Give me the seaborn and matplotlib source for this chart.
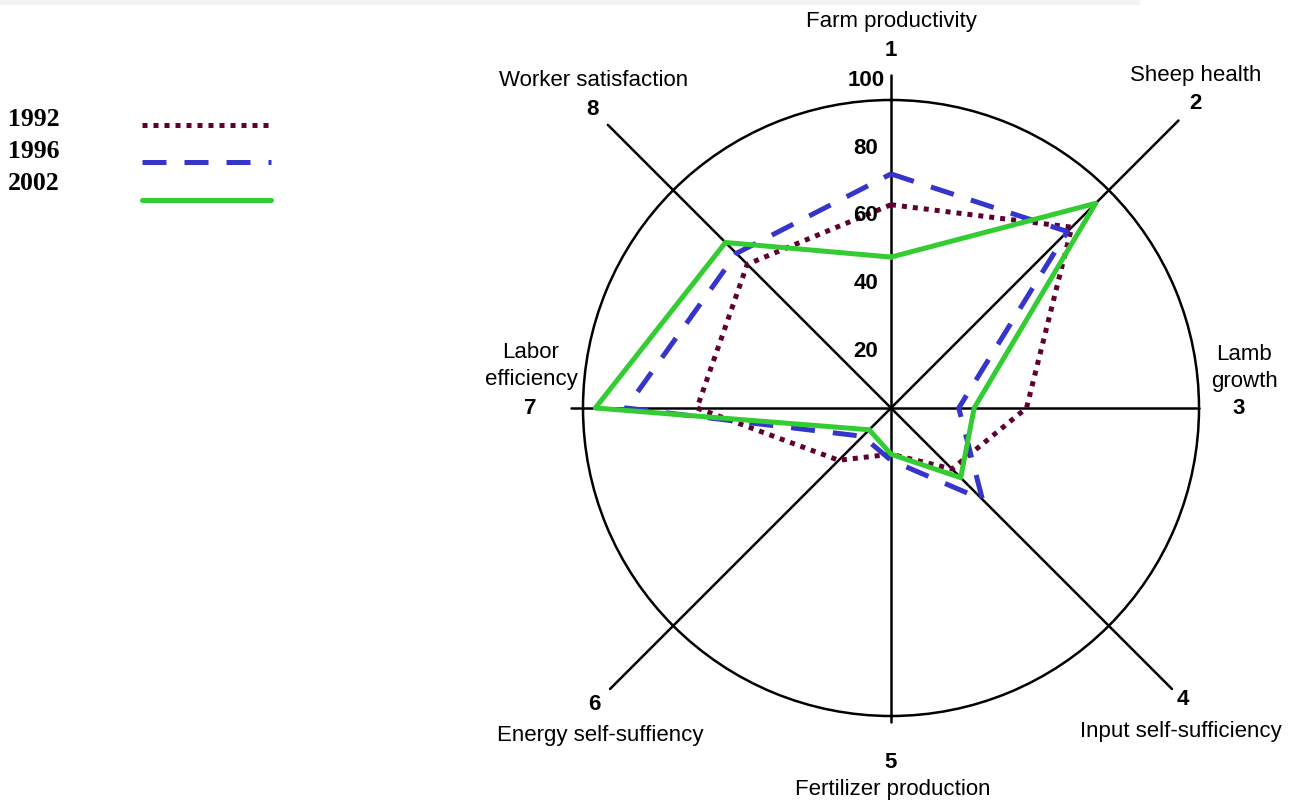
import numpy as np
import pandas as pd
import matplotlib.pyplot as plt
from matplotlib.patches import Rectangle
import seaborn as sns

# criteria (clockwise from the top) and scores per year
criteria = ['Farm productivity', 'Sheep health', 'Lamb\ngrowth', 'Input self-sufficiency',
            'Fertilizer production', 'Energy self-suffiency', 'Labor\nefficiency', 'Worker satisfaction']
years = ['1992', '1996', '2002']
scores_1992 = [66, 83, 44, 28, 15, 24, 63, 66]
scores_1996 = [76, 81, 22, 42, 17, 13, 86, 71]
scores_2002 = [49, 94, 27, 32, 15, 10, 96, 76]
ring_ticks = [20, 40, 60, 80, 100]

colors = {'1992': '#600030', '1996': '#3535cc', '2002': '#33cc33'}
dashes = {'1992': (1, 1.2), '1996': (4.8, 3.6), '2002': ''}

n = len(criteria)
theta = np.arange(n) * 2 * np.pi / n
rows = []
for yr, vals in zip(years, [scores_1992, scores_1996, scores_2002]):
    for t, v in zip(list(theta) + [2 * np.pi], vals + vals[:1]):
        rows.append({'year': yr, 'theta': t, 'value': v})
df = pd.DataFrame(rows)

sns.set_style('white')
plt.rcParams['font.family'] = ['Liberation Sans', 'DejaVu Sans']
plt.rcParams['text.color'] = 'black'

W, H = 1292, 800
fig = plt.figure(figsize=(W / 100, H / 100), dpi=100)
fx = lambda x: x / W
fy = lambda y: 1 - y / H

# faint band at the very top of the screenshot
fig.add_artist(Rectangle((0, fy(5)), fx(1140), 5 / H, color='#f3f3f3',
                         transform=fig.transFigure, lw=0))

cx, cy, R = 891, 408, 308
ax = fig.add_axes([fx(cx - R), fy(cy + R), 2 * R / W, 2 * R / H], projection='polar')
ax.set_theta_zero_location('N')
ax.set_theta_direction(-1)
ax.patch.set_alpha(0)

# spokes (diagonals run longer than the others)
spoke_len = [108, 132, 100, 129, 102, 129, 104, 130]
for t, L in zip(theta, spoke_len):
    ax.plot([t, t], [0, L], color='black', lw=1.8, clip_on=False, zorder=1)

sns.lineplot(data=df, x='theta', y='value', hue='year', style='year', hue_order=years,
             style_order=years, palette=colors, dashes=dashes, sort=False, estimator=None,
             lw=3.6, legend=False, ax=ax, zorder=3)

ax.set_ylim(0, 100)
ax.grid(False)
ax.set_xticks([])
ax.set_yticks([])
ax.set_xlabel('')
ax.set_ylabel('')
ax.spines['polar'].set_color('black')
ax.spines['polar'].set_linewidth(1.8)

# ring values, left of the top spoke
for v in ring_ticks:
    ax.annotate(str(v), xy=(0, 1.1 * v - 3.6), xytext=(-18, 0), textcoords='offset points',
                ha='center', va='center', fontsize=16, fontweight='bold', annotation_clip=False)

# spoke numbers
num_r = [116, 140, 113, 134, 115, 136, 117, 137]
for i, (t, r) in enumerate(zip(theta, num_r)):
    ax.text(t, r, str(i + 1), ha='center', va='center', fontsize=16, fontweight='bold',
            clip_on=False)

# criterion names
name_pos = [(891, 22), (1196, 75), (1244, 368), (1181, 731),
            (893, 789), (600, 736), (531, 366), (594, 80)]
for name, (x, y) in zip(criteria, name_pos):
    fig.text(fx(x), fy(y), name, ha='center', va='center', fontsize=16, linespacing=1.4)

# legend
lax = fig.add_axes([0, 0, 1, 1])
lax.set_xlim(0, W)
lax.set_ylim(H, 0)
lax.axis('off')
lax.patch.set_alpha(0)
legend_text_y = [120, 152, 184]
legend_line_y = [125, 162, 200]
for yr, ty, ly in zip(years, legend_text_y, legend_line_y):
    lax.text(8, ty, yr, ha='left', va='center', fontsize=18.5, fontweight='bold',
             family='Liberation Serif')
    if dashes[yr]:
        lax.plot([142, 271], [ly, ly], color=colors[yr], lw=3.6, dashes=dashes[yr])
    else:
        lax.plot([142, 271], [ly, ly], color=colors[yr], lw=3.6)

fig.savefig('out.png', dpi=100)
